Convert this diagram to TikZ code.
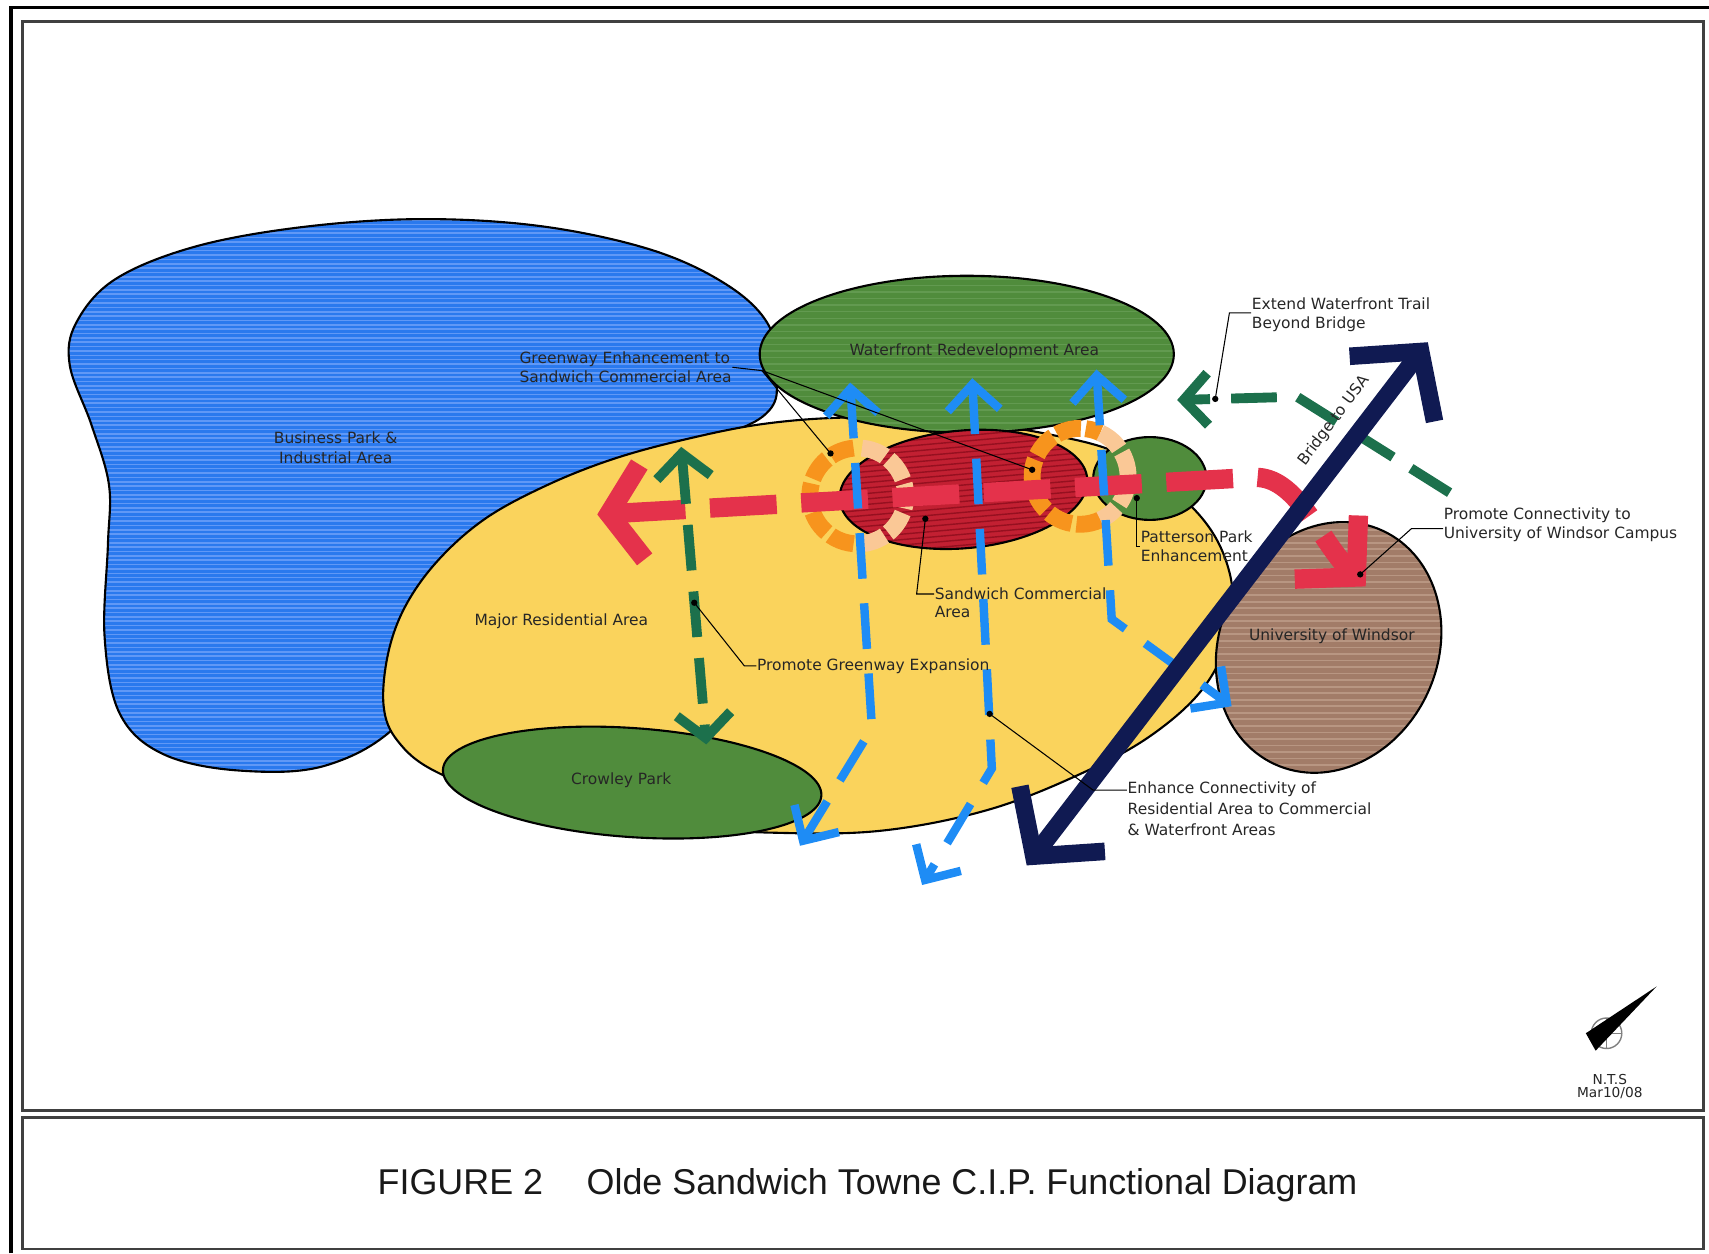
\documentclass[tikz,border=0pt]{standalone}
\usepackage{fontspec}
\setmainfont{Liberation Sans}
\newfontfamily\mapfont{DejaVu Sans}
\usepackage{xcolor}
\usepackage{tikz}
\usetikzlibrary{arrows.meta,positioning,calc}

\definecolor{bizblue}{RGB}{42,121,238}
\definecolor{bizstreak}{RGB}{96,152,246}
\definecolor{resyellow}{RGB}{250,211,92}
\definecolor{parkgreen}{RGB}{80,140,60}
\definecolor{parkstreak}{RGB}{98,154,80}
\definecolor{comred}{RGB}{194,32,50}
\definecolor{comstreak}{RGB}{150,16,32}
\definecolor{unibrown}{RGB}{162,124,104}
\definecolor{unistreak}{RGB}{184,150,130}
\definecolor{bridgenavy}{RGB}{16,26,82}
\definecolor{linkred}{RGB}{228,50,75}
\definecolor{trailgreen}{RGB}{28,112,76}
\definecolor{walkblue}{RGB}{30,140,245}
\definecolor{ringorange}{RGB}{247,148,29}
\definecolor{ringpeach}{RGB}{250,200,150}

\tikzset{
  zone/.style={draw=black, line width=0.6pt},
  panel/.style={draw=black!75, line width=0.8pt},
  lbl/.style={font=\mapfont\fontsize{4.4}{5.4}\selectfont, align=center, inner sep=0pt, text=black!85},
  note/.style={lbl, align=left},
  leader/.style={black, line width=0.3pt},
  dot/.style={circle, fill=black, inner sep=0pt, minimum size=1.8pt},
  ring/.style={line width=4.8pt, dash pattern=on 7pt off 1.4pt},
  linkarrow/.style={draw=linkred, line width=5.5pt, dash pattern=on 19pt off 7pt,
    arrows={Straight Barb[length=3.3mm,width=9.5mm]-Straight Barb[length=4.2mm,width=9mm]}},
  trailarrow/.style={draw=trailgreen, line width=2.8pt, dash pattern=on 13pt off 6pt,
    arrows={Straight Barb[length=2.4mm,width=5.4mm]-Straight Barb[length=2.4mm,width=5.4mm]}},
  walkarrow/.style={draw=walkblue, line width=2.4pt, dash pattern=on 13pt off 7pt,
    arrows={Straight Barb[length=2.6mm,width=5.2mm]-Straight Barb[length=2.6mm,width=5.2mm]}},
  bridgearrow/.style={draw=bridgenavy, line width=5pt,
    arrows={Straight Barb[length=4.7mm,width=10.7mm]-Straight Barb[length=4.7mm,width=10.7mm]}}
}

\begin{document}
\begin{tikzpicture}[x=0.0109cm, y=-0.0109cm]
    \useasboundingbox (0,0) rectangle (1568,1150);

    % Sheet frame
    \draw[line width=1pt] (10,1150) -- (10,7) -- (1568,7);
    \draw[panel] (21,20) rectangle (1563,1019);
    \draw[panel] (21,1025) rectangle (1563,1146);

    % Business park
    \filldraw[zone, fill=bizblue, path picture={
        \foreach \y in {198,202,...,712} \draw[bizstreak, line width=0.45pt] (40,\y) -- (730,\y);}]
      plot[smooth cycle, tension=0.6] coordinates {(64,335) (70,296) (106,256) (180,226) (280,208)
        (390,201) (500,208) (600,230) (668,262) (705,298) (712,340) (700,382) (600,430) (440,560)
        (370,660) (300,702) (220,707) (150,692) (110,655) (96,585) (99,500) (100,445) (84,390)};

    % Residential area
    \filldraw[zone, fill=resyellow]
      plot[smooth cycle, tension=0.6] coordinates {(352,648) (356,600) (372,556) (402,514) (445,476)
        (500,446) (560,422) (625,404) (700,389) (780,383) (870,386) (960,398) (1035,420) (1100,472)
        (1128,525) (1128,580) (1105,630) (1060,672) (1000,706) (910,742) (810,762) (710,764)
        (600,757) (480,738) (400,708) (365,680)};

    % Parks and commercial core
    \filldraw[zone, fill=parkgreen, rotate around={-4:(580,718)}] (580,718) ellipse[x radius=174, y radius=50];
    \filldraw[zone, fill=parkgreen, path picture={
        \foreach \y in {256,262,...,398} \draw[parkstreak, line width=0.4pt] (690,\y) -- (1080,\y);}]
      (887,325) ellipse[x radius=190, y radius=72];
    \filldraw[zone, fill=comred, rotate around={5:(884,449)}, path picture={
        \foreach \y in {380,385,...,520} \draw[comstreak, line width=0.4pt] (740,\y) -- (1030,\y);}]
      (884,449) ellipse[x radius=114, y radius=54];
    \filldraw[zone, fill=parkgreen] (1055,439) ellipse[x radius=52, y radius=38];

    % University
    \begin{scope}
        \clip[rotate around={-25:(1219,594)}] (1219,594) ellipse[x radius=100, y radius=118];
        \fill[unibrown] (1100,470) rectangle (1340,720);
        \foreach \y in {474,480,...,716} \draw[unistreak, line width=0.5pt] (1100,\y) -- (1340,\y);
    \end{scope}
    \draw[zone, rotate around={-25:(1219,594)}] (1219,594) ellipse[x radius=100, y radius=118];

    % Gateway rings
    \coordinate (ringW) at (787,455);
    \coordinate (ringE) at (991,437);
    \draw[ring, draw=ringorange] (ringW) ++(95:44) arc[start angle=95, end angle=265, radius=44];
    \draw[ring, draw=ringpeach] (ringW) ++(-85:44) arc[start angle=-85, end angle=85, radius=44];
    \draw[ring, draw=ringorange] (ringE) ++(65:44) arc[start angle=65, end angle=295, radius=44];
    \draw[ring, draw=ringpeach] (ringE) ++(-65:44) arc[start angle=-65, end angle=65, radius=44];

    % Connectivity arrows
    \draw[linkarrow] (548,472) -- (1150,438) .. controls (1190,436) and (1210,495) .. (1253,538);
    \draw[trailarrow] (625,410) -- (648,683);
    \draw[trailarrow, arrows={-Straight Barb[length=2.4mm,width=5.2mm]}] (1330,452) -- (1190,364) -- (1080,367);
    \draw[walkarrow] (780,351) -- (800,668) -- (734,776);
    \draw[walkarrow] (892,347) -- (910,705) -- (846,812);
    \draw[walkarrow] (1006,339) -- (1020,568) -- (1130,648);

    % Bridge
    \draw[bridgearrow] (942,794) -- (1310,314);
    \node[lbl, rotate=53] (bridgelbl) at (1224,386) {Bridge to USA};

    % Area labels
    \node[lbl, font=\mapfont\fontsize{4.4}{5.6}\selectfont] (bizlbl) at (308,411) {Business Park \&\\Industrial Area};
    \node[lbl] (wflbl) at (894,322) {Waterfront Redevelopment Area};
    \node[lbl] (reslbl) at (515,570) {Major Residential Area};
    \node[lbl] (crowlbl) at (570,716) {Crowley Park};
    \node[lbl] (unilbl) at (1222,584) {University of Windsor};

    % Notes and leaders
    \node[note, anchor=west] (gwlbl) at (476,337) {Greenway Enhancement to\\Sandwich Commercial Area};
    \node[note, anchor=west] (comlbl) at (857,553) {Sandwich Commercial\\Area};
    \node[note, anchor=west] (patlbl) at (1046,501) {Patterson Park\\Enhancement};
    \node[note, anchor=west] (gxlbl) at (694,611) {Promote Greenway Expansion};
    \node[note, anchor=west, font=\mapfont\fontsize{4.4}{6}\selectfont] (enlbl) at (1034,742)
        {Enhance Connectivity of\\Residential Area to Commercial\\\& Waterfront Areas};
    \node[note, anchor=west] (pclbl) at (1324,481) {Promote Connectivity to\\University of Windsor Campus};
    \node[note, anchor=west] (exlbl) at (1148,289) {Extend Waterfront Trail\\Beyond Bridge};

    \node[dot] (dRingW) at (762,416) {};
    \node[dot] (dRingE) at (947,431) {};
    \node[dot] (dCom) at (849,476) {};
    \node[dot] (dPat) at (1043,457) {};
    \node[dot] (dGreen) at (637,553) {};
    \node[dot] (dEnh) at (908,655) {};
    \node[dot] (dUni) at (1248,527) {};
    \node[dot] (dTrail) at (1115,366) {};

    \coordinate (gwk) at (699,340);
    \coordinate (comk) at (841,545);
    \coordinate (gxk) at (683,611);
    \coordinate (enk) at (1003,725);
    \coordinate (unk) at (1295,485);
    \coordinate (trk) at (1128,287);

    \draw[leader] (gwlbl.east) -- (gwk) -- (dRingE.center);
    \draw[leader] (gwk) -- (dRingW.center);
    \draw[leader] (dCom.center) -- (comk) -- (comk -| comlbl.west);
    \draw[leader] (dPat.center) |- (patlbl.west);
    \draw[leader] (dGreen.center) -- (gxk) -- (gxlbl.west);
    \draw[leader] (dEnh.center) -- (enk) -- (enk -| enlbl.west);
    \draw[leader] (dUni.center) -- (unk) -- (unk -| pclbl.west);
    \draw[leader] (dTrail.center) -- (trk) -- (trk -| exlbl.west);

    % North arrow
    \draw[gray, line width=0.4pt] (1474,948) circle[radius=14];
    \draw[gray, line width=0.3pt] (1460,948) -- (1488,948) (1474,934) -- (1474,962);
    \fill[black] (1520,905) -- (1455,948) -- (1464,964) -- cycle;
    \node[lbl, font=\mapfont\fontsize{3.9}{4.6}\selectfont] (ntslbl) at (1477,990) {N.T.S};
    \node[lbl, font=\mapfont\fontsize{3.9}{4.6}\selectfont] (datelbl) at (1477,1003) {Mar10/08};

    % Title
    \node[font=\fontsize{10.2}{12}\selectfont, text=black!90] (title) at (796,1087)
        {FIGURE 2\hspace{12.4pt}Olde Sandwich Towne C.I.P. Functional Diagram};
\end{tikzpicture}
\end{document}
